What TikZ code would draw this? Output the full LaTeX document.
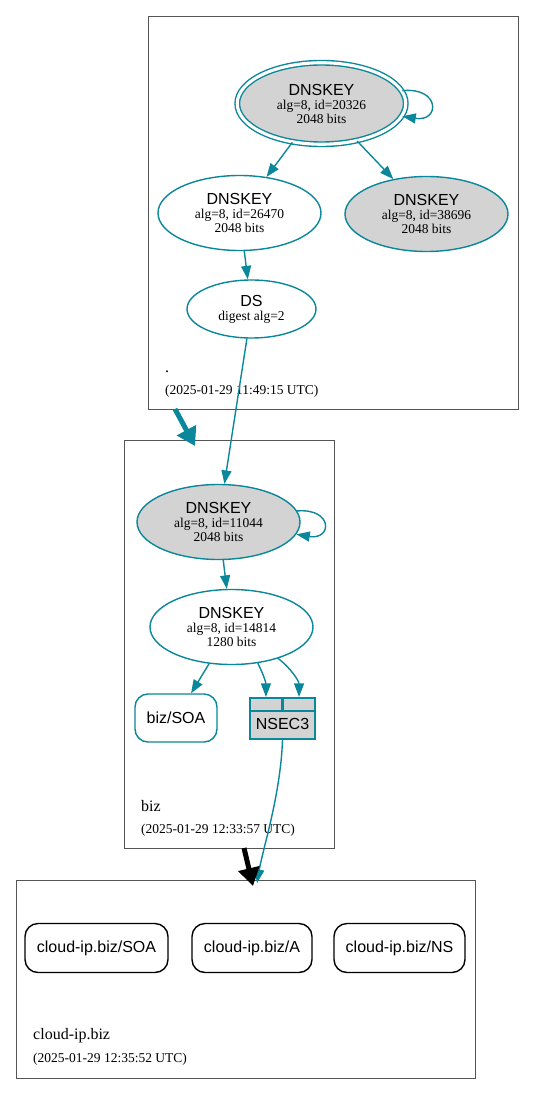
\documentclass[tikz,border=0pt]{standalone}
\usepackage{fontspec}
\setmainfont{Liberation Serif}
\setsansfont{Liberation Sans}
\usepackage{xcolor}
\usepackage{tikz}
\usetikzlibrary{shapes.geometric, arrows.meta, positioning, calc}

\definecolor{dnsteal}{HTML}{0A879A}
\definecolor{keygray}{HTML}{D3D3D3}
\definecolor{zonegray}{HTML}{555555}
\newcommand{\keytitle}[1]{{\sffamily\fontsize{16}{16}\selectfont #1}}

\begin{document}
\begin{tikzpicture}[
    x=1pt, y=-1pt,
    every node/.style={font=\fontsize{13.5}{14}\selectfont, align=center, inner sep=0pt},
    zone/.style={rectangle, draw=zonegray, line width=0.9pt},
    zonename/.style={anchor=base west, font=\fontsize{16}{16}\selectfont},
    zonedate/.style={anchor=base west},
    keynode/.style={ellipse, draw=dnsteal, line width=1.4pt, fill=white,
                    minimum width=163pt, minimum height=75pt},
    ksk/.style={keynode, fill=keygray},
    rootkey/.style={ksk, double=white, double distance=3.1pt,
                    minimum width=168.5pt, minimum height=81.5pt},
    dsnode/.style={keynode, minimum width=129pt, minimum height=58pt},
    rrset/.style={rectangle, rounded corners=13pt, draw, line width=1.4pt, fill=white,
                  minimum height=49pt, font=\sffamily\fontsize{16}{16}\selectfont},
    nsecbox/.style={rectangle, draw=dnsteal, fill=keygray, line width=2.2pt,
                    minimum width=65pt, minimum height=41pt},
    nseccell/.style={rectangle, draw=dnsteal, line width=1.6pt,
                     minimum width=32.5pt, minimum height=13pt},
    edge/.style={-{Triangle[length=13.5pt,width=10pt]}, color=dnsteal, line width=1.4pt},
    delegation/.style={-{Triangle[length=18pt,width=21pt]}, line width=5pt}
]
\useasboundingbox (0,0) rectangle (535,1094);

% zones
\node (rootzone)  [zone, minimum width=370pt, minimum height=393pt] at (333,212.5) {};
\node (bizzone)   [zone, minimum width=210pt, minimum height=408pt] at (229,644)   {};
\node (cloudzone) [zone, minimum width=459pt, minimum height=198pt] at (245.5,979) {};

\node (rootname)  [zonename] at (165,372)  {.};
\node (rootdate)  [zonedate] at (165,394)  {(2025-01-29 11:49:15 UTC)};
\node (bizname)   [zonename] at (141,811.5) {biz};
\node (bizdate)   [zonedate] at (141,833)  {(2025-01-29 12:33:57 UTC)};
\node (cloudname) [zonename] at (33,1039)  {cloud-ip.biz};
\node (clouddate) [zonedate] at (33,1062)  {(2025-01-29 12:35:52 UTC)};

% root zone
\node (rootksk) [rootkey] at (321.5,103.5) {\keytitle{DNSKEY}\\alg=8, id=20326\\2048 bits};
\node (rootzsk) [keynode] at (239.5,213)   {\keytitle{DNSKEY}\\alg=8, id=26470\\2048 bits};
\node (rootold) [ksk]     at (426.5,214)   {\keytitle{DNSKEY}\\alg=8, id=38696\\2048 bits};
\node (bizds)   [dsnode]  at (251.5,309)   {\keytitle{DS}\\digest alg=2};

% biz zone
\node (bizksk) [ksk]     at (218.5,522) {\keytitle{DNSKEY}\\alg=8, id=11044\\2048 bits};
\node (bizzsk) [keynode] at (231.5,627) {\keytitle{DNSKEY}\\alg=8, id=14814\\1280 bits};
\node (bizsoa) [rrset, draw=dnsteal, minimum width=82pt, minimum height=48pt] at (176,718) {biz/SOA};
\node (nsec3)  [nsecbox] at (282.5,718.5) {};
\node (nsecleft)  [nseccell, anchor=north west] at (nsec3.north west) {};
\node (nsecright) [nseccell, anchor=north east] at (nsec3.north east) {};
\node (nsectext)  [font=\sffamily\fontsize{16}{16}\selectfont] at (282.5,724) {NSEC3};

% cloud-ip.biz zone
\node (cloudsoa) [rrset, minimum width=143pt] at (96.5,948)  {cloud-ip.biz/SOA};
\node (clouda)   [rrset, minimum width=120pt] at (252,948)   {cloud-ip.biz/A};
\node (cloudns)  [rrset, minimum width=131pt] at (399.5,948) {cloud-ip.biz/NS};

\coordinate (rootexit)   at (175,409);
\coordinate (bizentry)   at (195,446);
\coordinate (bizexit)    at (244,848);
\coordinate (cloudentry) at (253,886);
\coordinate (nsecentry)  at (257,883);

% edges
\draw [edge] (rootksk.9) .. controls +(38,-4) and +(38,6) .. (rootksk.-9);
\draw [edge] (rootksk) -- (rootzsk);
\draw [edge] (rootksk) -- (rootold);
\draw [edge] (rootzsk) -- (bizds);
\draw [edge] (bizds) -- (bizksk);
\draw [edge] (bizksk.8) .. controls +(36,-3) and +(36,6) .. (bizksk.-9);
\draw [edge] (bizksk) -- (bizzsk);
\draw [edge] (bizzsk) -- (bizsoa);
\draw [edge] (bizzsk.-54) .. controls +(6,12) and +(0,-14) .. (nsecleft.north);
\draw [edge] (bizzsk.-34) .. controls +(12,9) and +(0,-16) .. (nsecright.north);
\draw [edge] (nsec3.south) .. controls +(-2,55) and +(6,-35) .. (nsecentry);

\draw [delegation, color=dnsteal] (rootexit) -- (bizentry);
\draw [delegation, color=black]   (bizexit) -- (cloudentry);
\end{tikzpicture}
\end{document}
